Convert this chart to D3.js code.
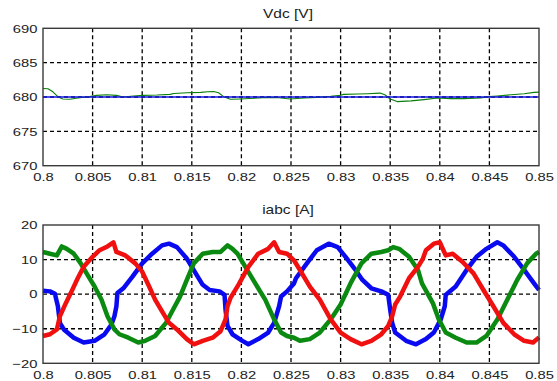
<!DOCTYPE html>
<html>
<head>
<meta charset="utf-8">
<script src="https://cdn.jsdelivr.net/npm/d3@7"></script>
<style>
  body { margin: 0; background: #fff; }
  svg text { font-family: Arial, "Liberation Sans", sans-serif; fill: #222; }
</style>
</head>
<body>
<svg id="chart" width="557" height="381"></svg>
<script>
// shared time axis
const xTicks = [0.8, 0.805, 0.81, 0.815, 0.82, 0.825, 0.83, 0.835, 0.84, 0.845, 0.85];
const xTickLabels = ['0.8', '0.805', '0.81', '0.815', '0.82', '0.825', '0.83', '0.835', '0.84', '0.845', '0.85'];

// Vdc panel
const vdcTicks = [670, 675, 680, 685, 690];
const vdcRef = [[0.8, 680], [0.85, 680]];
const vdcMeas = [
  [0.8, 681.24], [0.8005, 681.2], [0.801, 680.76], [0.8015, 680.05], [0.802, 679.7], [0.8027, 679.67],
  [0.8037, 679.9], [0.8047, 680.05], [0.8054, 680.24], [0.8064, 680.33], [0.8074, 680.24], [0.8081, 680.0],
  [0.8091, 680.14], [0.8101, 680.24], [0.8115, 680.29], [0.8128, 680.38], [0.8132, 680.52], [0.8145, 680.62],
  [0.8159, 680.67], [0.8166, 680.76], [0.8172, 680.81], [0.8177, 680.62], [0.8182, 680.05], [0.8189, 679.67],
  [0.8199, 679.71], [0.8213, 679.81], [0.8226, 679.95], [0.8238, 679.9], [0.8249, 679.71], [0.8263, 679.86],
  [0.8276, 679.95], [0.829, 680.1], [0.83, 680.24], [0.8303, 680.38], [0.8317, 680.43], [0.8327, 680.48],
  [0.834, 680.57], [0.8345, 680.29], [0.835, 679.71], [0.8357, 679.33], [0.8371, 679.43], [0.8384, 679.62],
  [0.8398, 679.86], [0.8411, 679.76], [0.8424, 679.76], [0.8441, 679.86], [0.845, 680.05], [0.8458, 680.14],
  [0.8472, 680.33], [0.8485, 680.48], [0.8495, 680.67], [0.85, 680.71]
];

// iabc panel
const iTicks = [-20, -10, 0, 10, 20];
const iaBlue = [
  [0.8, 1], [0.8007, 0.8], [0.8012, 0.1], [0.8015, -3.5], [0.8017, -8.3], [0.8021, -10.2], [0.8031, -12.6],
  [0.8041, -14], [0.8052, -13.5], [0.8062, -11.6], [0.8069, -8.8], [0.8072, -6.4], [0.8074, -3.5], [0.8075, 0.3],
  [0.8081, 1.7], [0.809, 5], [0.81, 8.9], [0.811, 11.7], [0.812, 14.1], [0.8127, 14.6], [0.8135, 13.6],
  [0.8145, 10.3], [0.8155, 5.5], [0.8161, 2.7], [0.8168, 1.2], [0.8178, 0.8], [0.8183, -0.2], [0.8184, -4.5],
  [0.8186, -9.2], [0.8191, -11.6], [0.8201, -13.5], [0.8207, -14.5], [0.8217, -13], [0.8227, -11.1],
  [0.8233, -8.3], [0.8238, -3.5], [0.824, -0.7], [0.8246, 0.8], [0.8253, 3.1], [0.8255, 4.6], [0.8266, 8.9],
  [0.8276, 12.7], [0.8288, 14.6], [0.8297, 13.6], [0.8305, 10.8], [0.8314, 7.4], [0.8322, 4.1], [0.8331, 1.7],
  [0.8341, 0.8], [0.8348, -0.2], [0.835, -4.5], [0.8352, -8.3], [0.8355, -11.1], [0.8366, -13.5],
  [0.8376, -14.5], [0.8386, -13], [0.8394, -11.1], [0.8401, -7.3], [0.8405, -3.5], [0.8406, -0.2],
  [0.841, 0.8], [0.8416, 2.2], [0.8427, 7], [0.8437, 10.8], [0.8447, 13.1], [0.8458, 15], [0.8464, 14.1],
  [0.8475, 10.8], [0.8485, 7], [0.8495, 3.1], [0.85, 1.2]
];
const ibGreen = [
  [0.8, 12.2], [0.8007, 11.7], [0.8014, 11.2], [0.8019, 13.8], [0.8024, 13.1], [0.8031, 11.7], [0.8038, 8.9],
  [0.8045, 5.5], [0.8052, 2.2], [0.8059, -1.6], [0.8065, -6.4], [0.8072, -10.2], [0.8077, -11.6],
  [0.8086, -12.6], [0.8096, -14], [0.8103, -13.5], [0.8113, -12.1], [0.8124, -8.3], [0.8131, -4.5],
  [0.8138, -0.8], [0.8145, 4.1], [0.8152, 8.9], [0.8161, 11.7], [0.8171, 12.2], [0.8179, 12.2], [0.8186, 14.1],
  [0.8191, 13.1], [0.8196, 11.7], [0.8204, 7.9], [0.8214, 3.1], [0.8224, -1.6], [0.8233, -7.3], [0.824, -11.1],
  [0.8246, -12.1], [0.8253, -12.6], [0.8259, -13.5], [0.8269, -13], [0.8279, -11.1], [0.829, -7.3], [0.83, -3],
  [0.831, 3.1], [0.8321, 8.9], [0.8331, 11.7], [0.8341, 12.2], [0.8348, 12.7], [0.8353, 13.6], [0.8359, 13.1],
  [0.8369, 10.8], [0.8378, 7], [0.8382, 3.1], [0.8393, -2.6], [0.8399, -7.3], [0.8406, -11.1], [0.8416, -12.6],
  [0.8427, -14], [0.8437, -14], [0.8447, -12.1], [0.8458, -7.3], [0.8468, -1.6], [0.8478, 4.1], [0.8488, 8.9],
  [0.8497, 11.7], [0.85, 12.2]
];
const icRed = [
  [0.8, -12.1], [0.8007, -11.6], [0.8014, -10.2], [0.8017, -6.4], [0.8023, -2.6], [0.8028, 0.3], [0.8035, 4.6],
  [0.8041, 7.9], [0.805, 10.8], [0.8057, 12.7], [0.8065, 13.8], [0.8071, 15], [0.8074, 12.2], [0.8083, 11.2],
  [0.8093, 8.9], [0.81, 6.5], [0.8107, 2.2], [0.8113, -1.6], [0.812, -5], [0.8127, -8.3], [0.8135, -10.2],
  [0.8145, -13], [0.8152, -14.5], [0.8161, -13.5], [0.8171, -12.6], [0.8179, -10.7], [0.8184, -7.3],
  [0.8186, -3.5], [0.8189, -1.1], [0.8197, 2.7], [0.8207, 7.9], [0.8217, 11.7], [0.8227, 13.1], [0.8233, 15],
  [0.8238, 12.2], [0.8246, 11.7], [0.8253, 9.8], [0.8259, 7], [0.8269, 2.2], [0.8279, -1.6], [0.829, -7.3],
  [0.83, -11.1], [0.831, -13], [0.8321, -14.5], [0.8331, -13.5], [0.8341, -11.6], [0.8348, -9.2],
  [0.8352, -6.4], [0.8355, -3], [0.836, -0.7], [0.8369, 4.6], [0.8378, 7.9], [0.8383, 10.3], [0.8386, 12.7],
  [0.8394, 14.6], [0.84, 15], [0.8406, 11.2], [0.8413, 11.7], [0.8423, 9.3], [0.8434, 6], [0.8444, 1.2],
  [0.8454, -3.5], [0.8464, -8.3], [0.8475, -11.6], [0.8485, -13.5], [0.8494, -14], [0.85, -12.5]
];

const svg = d3.select('#chart');
const left = 43, right = 539;
const textScale = 'scale(1.25,1)';

const x = d3.scaleLinear().domain([0.8, 0.85]).range([left, right]);

function panel(top, bottom, yDomain, yTicks, title, series) {
  const y = d3.scaleLinear().domain(yDomain).range([bottom, top]);
  const g = svg.append('g');

  // grid
  g.append('g').selectAll('line.gx')
    .data(xTicks.slice(1, -1))
    .enter().append('line')
    .attr('x1', d => x(d)).attr('x2', d => x(d))
    .attr('y1', top).attr('y2', bottom)
    .attr('stroke', '#000').attr('stroke-width', 1.3).attr('stroke-dasharray', '4,3');
  g.append('g').selectAll('line.gy')
    .data(yTicks.slice(1, -1))
    .enter().append('line')
    .attr('x1', left).attr('x2', right)
    .attr('y1', d => y(d)).attr('y2', d => y(d))
    .attr('stroke', '#000').attr('stroke-width', 1.3).attr('stroke-dasharray', '4,3');

  // data
  const line = d3.line().x(d => x(d[0])).y(d => y(d[1]));
  series.forEach(s => {
    g.append('path')
      .datum(s.data)
      .attr('d', line)
      .attr('fill', 'none')
      .attr('stroke', s.color)
      .attr('stroke-width', s.width)
      .attr('stroke-linejoin', 'round');
  });

  // box
  g.append('rect')
    .attr('x', left).attr('y', top)
    .attr('width', right - left).attr('height', bottom - top)
    .attr('fill', 'none').attr('stroke', '#3a3a3a').attr('stroke-width', 1.4);

  // axes
  const xa = g.append('g')
    .attr('transform', `translate(0,${bottom})`)
    .call(d3.axisBottom(x).tickValues(xTicks).tickSize(0).tickPadding(7)
      .tickFormat((d, i) => xTickLabels[i]));
  const ya = g.append('g')
    .attr('transform', `translate(${left},0)`)
    .call(d3.axisLeft(y).tickValues(yTicks).tickSize(0).tickPadding(4.5));
  [xa, ya].forEach(a => {
    a.select('.domain').remove();
    a.selectAll('text')
      .attr('fill', '#2a2a2a')
      .style('font-size', '11.8px')
      .attr('transform', textScale);
  });

  g.append('text')
    .attr('transform', `translate(288,${top - 10.8}) scale(1.24,1)`)
    .attr('text-anchor', 'middle')
    .style('font-size', '12.5px')
    .text(title);
}

panel(28.3, 165.7, [670, 690], vdcTicks, 'Vdc [V]', [
  { data: vdcMeas, color: '#0a7d0a', width: 1.1 },
  { data: vdcRef, color: '#1414e6', width: 1.6 }
]);

panel(225, 363.3, [-20, 20], iTicks, 'iabc [A]', [
  { data: iaBlue, color: '#0a0af0', width: 4.5 },
  { data: ibGreen, color: '#0b8a12', width: 4.5 },
  { data: icRed, color: '#f01010', width: 4.5 }
]);
</script>
</body>
</html>
